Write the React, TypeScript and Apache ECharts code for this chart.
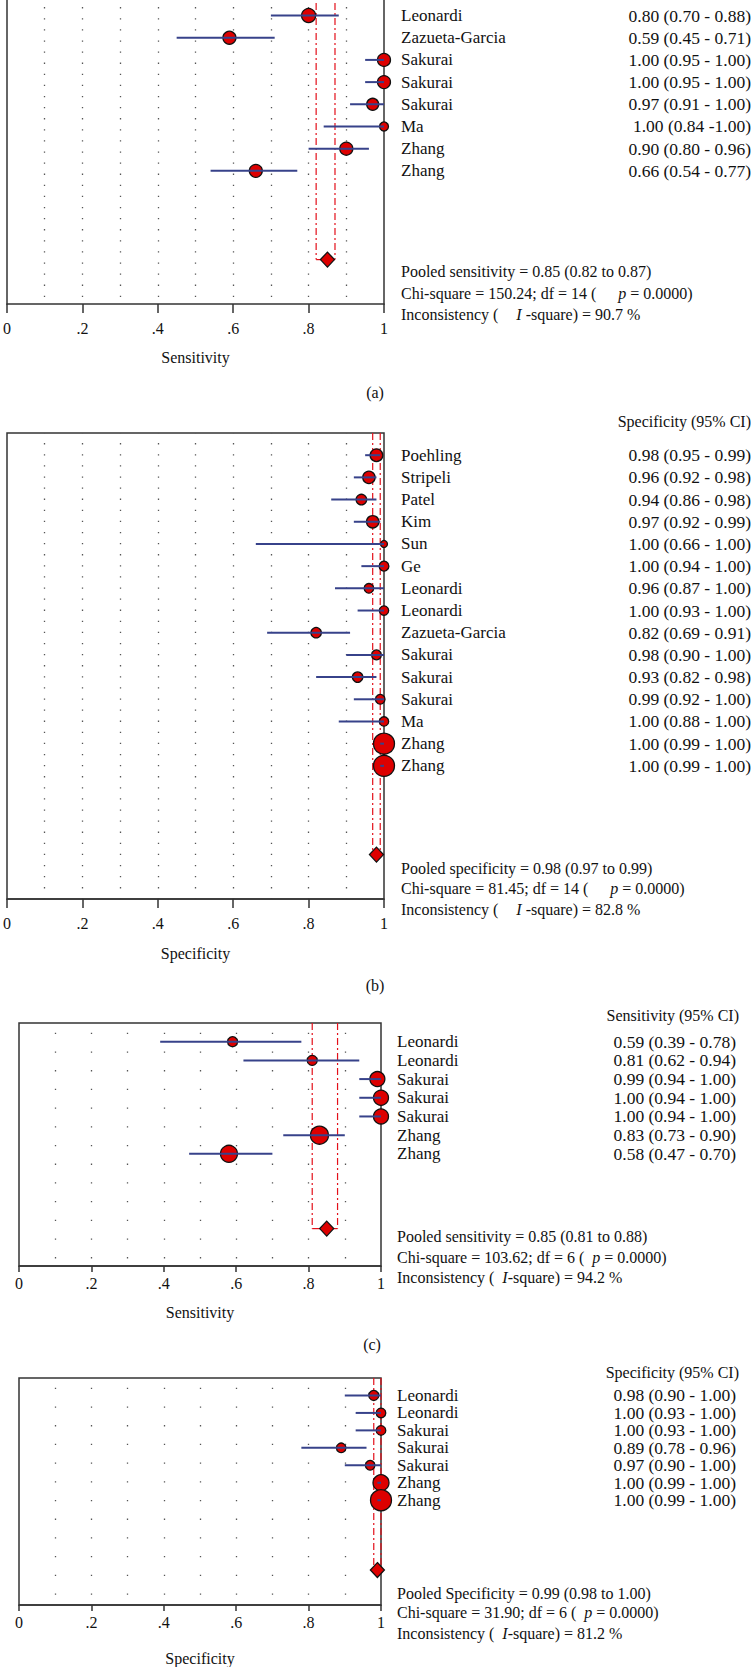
import React, { useEffect, useRef } from "react";
import * as echarts from "echarts";

const FONT = "'Liberation Serif', 'Times New Roman', serif";
const INK = "#111111";

// ---------- shared tick labels ----------
const xTickLabels = ["0", ".2", ".4", ".6", ".8", "1"];

// ---------- panel (a): sensitivity (first 7 of 15 studies are cropped above the picture) ----------
const aFirstRow = 7;
const aStudies = ["Leonardi", "Zazueta-Garcia", "Sakurai", "Sakurai", "Sakurai", "Ma", "Zhang", "Zhang"];
const aEst = [0.8, 0.59, 1.0, 1.0, 0.97, 1.0, 0.9, 0.66];
const aLow = [0.7, 0.45, 0.95, 0.95, 0.91, 0.84, 0.8, 0.54];
const aHigh = [0.88, 0.71, 1.0, 1.0, 1.0, 1.0, 0.96, 0.77];
const aWeight = [49, 42, 42, 42, 36, 20, 42, 42];
const aCiText = [
  "0.80 (0.70 - 0.88)", "0.59 (0.45 - 0.71)", "1.00 (0.95 - 1.00)", "1.00 (0.95 - 1.00)",
  "0.97 (0.91 - 1.00)", "1.00 (0.84 -1.00)", "0.90 (0.80 - 0.96)", "0.66 (0.54 - 0.77)",
];
const aPooled = [0.85, 0.82, 0.87];
const aHetero = [150.24, 14, 0.0, 90.7];

// ---------- panel (b): specificity ----------
const bFirstRow = 0;
const bStudies = [
  "Poehling", "Stripeli", "Patel", "Kim", "Sun", "Ge", "Leonardi", "Leonardi",
  "Zazueta-Garcia", "Sakurai", "Sakurai", "Sakurai", "Ma", "Zhang", "Zhang",
];
const bEst = [0.98, 0.96, 0.94, 0.97, 1.0, 1.0, 0.96, 1.0, 0.82, 0.98, 0.93, 0.99, 1.0, 1.0, 1.0];
const bLow = [0.95, 0.92, 0.86, 0.92, 0.66, 0.94, 0.87, 0.93, 0.69, 0.9, 0.82, 0.92, 0.88, 0.99, 0.99];
const bHigh = [0.99, 0.98, 0.98, 0.99, 1.0, 1.0, 1.0, 1.0, 0.91, 1.0, 0.98, 1.0, 1.0, 1.0, 1.0];
const bWeight = [40, 38, 28, 38, 12, 24, 23, 22, 27, 24, 27, 23, 22, 110, 110];
const bCiText = [
  "0.98 (0.95 - 0.99)", "0.96 (0.92 - 0.98)", "0.94 (0.86 - 0.98)", "0.97 (0.92 - 0.99)",
  "1.00 (0.66 - 1.00)", "1.00 (0.94 - 1.00)", "0.96 (0.87 - 1.00)", "1.00 (0.93 - 1.00)",
  "0.82 (0.69 - 0.91)", "0.98 (0.90 - 1.00)", "0.93 (0.82 - 0.98)", "0.99 (0.92 - 1.00)",
  "1.00 (0.88 - 1.00)", "1.00 (0.99 - 1.00)", "1.00 (0.99 - 1.00)",
];
const bPooled = [0.98, 0.97, 0.99];
const bHetero = [81.45, 14, 0.0, 82.8];

// ---------- panel (c): sensitivity ----------
const cFirstRow = 0;
const cStudies = ["Leonardi", "Leonardi", "Sakurai", "Sakurai", "Sakurai", "Zhang", "Zhang"];
const cEst = [0.59, 0.81, 0.99, 1.0, 1.0, 0.83, 0.58];
const cLow = [0.39, 0.62, 0.94, 0.94, 0.94, 0.73, 0.47];
const cHigh = [0.78, 0.94, 1.0, 1.0, 1.0, 0.9, 0.7];
const cWeight = [25, 25, 56, 56, 56, 81, 72];
const cCiText = [
  "0.59 (0.39 - 0.78)", "0.81 (0.62 - 0.94)", "0.99 (0.94 - 1.00)", "1.00 (0.94 - 1.00)",
  "1.00 (0.94 - 1.00)", "0.83 (0.73 - 0.90)", "0.58 (0.47 - 0.70)",
];
const cPooled = [0.85, 0.81, 0.88];
const cHetero = [103.62, 6, 0.0, 94.2];

// ---------- panel (d): specificity ----------
const dFirstRow = 0;
const dStudies = ["Leonardi", "Leonardi", "Sakurai", "Sakurai", "Sakurai", "Zhang", "Zhang"];
const dEst = [0.98, 1.0, 1.0, 0.89, 0.97, 1.0, 1.0];
const dLow = [0.9, 0.93, 0.93, 0.78, 0.9, 0.99, 0.99];
const dHigh = [1.0, 1.0, 1.0, 0.96, 1.0, 1.0, 1.0];
const dWeight = [25, 23, 23, 23, 23, 64, 110];
const dCiText = [
  "0.98 (0.90 - 1.00)", "1.00 (0.93 - 1.00)", "1.00 (0.93 - 1.00)", "0.89 (0.78 - 0.96)",
  "0.97 (0.90 - 1.00)", "1.00 (0.99 - 1.00)", "1.00 (0.99 - 1.00)",
];
const dPooled = [0.99, 0.98, 1.0];
const dHetero = [31.9, 6, 0.0, 81.2];

// ---------- layout (positions and styles, not data) ----------
const panels = [
  {
    studies: aStudies, est: aEst, low: aLow, high: aHigh, weight: aWeight, ciText: aCiText,
    firstRow: aFirstRow, pooled: aPooled, hetero: aHetero,
    pooledLabel: "Pooled sensitivity", header: "", axisName: "Sensitivity", caption: "(a)",
    // the picture is cropped: the plot's top edge lies above the page
    cropped: true, yMin: 6.3,
    left: 4, top: 0, width: 380, height: 304, yMax: 20, pooledRow: 18,
    tickLen: 9, labelMargin: 16, nameGap: 45, nameOffset: 17, valueRight: 751,
    headerRight: 751, headerY: -174, statsX: 401, statsY: [271, 293, 314],
    pGap: 22, iGap: 18, iText: " -square", captionX: 375, captionY: 392,
    dotPeriod: 11.1, dotOffset: 4,
  },
  {
    studies: bStudies, est: bEst, low: bLow, high: bHigh, weight: bWeight, ciText: bCiText,
    firstRow: bFirstRow, pooled: bPooled, hetero: bHetero,
    pooledLabel: "Pooled specificity", header: "Specificity (95% CI)", axisName: "Specificity", caption: "(b)",
    cropped: false, yMin: -1,
    left: 4, top: 433, width: 380, height: 466, yMax: 20, pooledRow: 18,
    tickLen: 9, labelMargin: 16, nameGap: 46, nameOffset: 17, valueRight: 751,
    headerRight: 751, headerY: 421, statsX: 401, statsY: [868, 888, 909],
    pGap: 22, iGap: 18, iText: " -square", captionX: 375, captionY: 985,
    dotPeriod: 11.1, dotOffset: 1,
  },
  {
    studies: cStudies, est: cEst, low: cLow, high: cHigh, weight: cWeight, ciText: cCiText,
    firstRow: cFirstRow, pooled: cPooled, hetero: cHetero,
    pooledLabel: "Pooled sensitivity", header: "Sensitivity (95% CI)", axisName: "Sensitivity", caption: "(c)",
    cropped: false, yMin: -1,
    left: 19, top: 1023, width: 362, height: 243, yMax: 12, pooledRow: 10,
    tickLen: 6, labelMargin: 9, nameGap: 38, nameOffset: 16, valueRight: 736,
    headerRight: 739, headerY: 1015, statsX: 397, statsY: [1236, 1257, 1277],
    pGap: 8, iGap: 8, iText: "-square", captionX: 372, captionY: 1344,
    dotPeriod: 18.7, dotOffset: 9.4,
  },
  {
    studies: dStudies, est: dEst, low: dLow, high: dHigh, weight: dWeight, ciText: dCiText,
    firstRow: dFirstRow, pooled: dPooled, hetero: dHetero,
    pooledLabel: "Pooled Specificity", header: "Specificity (95% CI)", axisName: "Specificity", caption: "",
    cropped: false, yMin: -1,
    left: 19, top: 1378, width: 362, height: 244, yMax: 12, pooledRow: 10,
    tickLen: 6, labelMargin: 9, nameGap: 45, nameOffset: 16, valueRight: 736,
    headerRight: 739, headerY: 1372, statsX: 397, statsY: [1593, 1612, 1633],
    pGap: 8, iGap: 8, iText: "-square", captionX: 372, captionY: 1700,
    dotPeriod: 18.7, dotOffset: 9.4,
  },
];

const RED = "#dd0000";
const NAVY = "#37428a";
const BOX = "#333333";

function textStyle(extra: any) {
  return { fontFamily: FONT, fontSize: 16, fill: INK, ...extra };
}

function buildOption() {
  const grid: any[] = [];
  const xAxis: any[] = [];
  const yAxis: any[] = [];
  const extraY: any[] = [];
  const series: any[] = [];
  const graphic: any[] = [];

  panels.forEach((p, i) => {
    const dotStyle = {
      color: "#555555",
      width: 1.3,
      type: [1.3, p.dotPeriod - 1.3],
      dashOffset: p.dotOffset,
    };
    grid.push({
      left: p.left, top: p.top, width: p.width, height: p.height,
      show: !p.cropped, borderColor: BOX, borderWidth: 1.5, backgroundColor: "transparent",
    });
    xAxis.push({
      type: "value", gridIndex: i, min: 0, max: 1, interval: 0.2,
      name: p.axisName, nameLocation: "middle", nameGap: p.nameGap,
      nameTextStyle: { fontFamily: FONT, fontSize: 16, color: INK },
      axisLine: { show: true, onZero: false, lineStyle: { color: BOX, width: 1.5 } },
      axisTick: { show: true, length: p.tickLen, lineStyle: { color: BOX, width: 1.5 } },
      axisLabel: {
        margin: p.labelMargin, fontFamily: FONT, fontSize: 16, color: INK,
        formatter: (v: number) => xTickLabels[Math.round(v / 0.2)],
      },
      splitLine: { show: true, showMinLine: false, showMaxLine: false, lineStyle: dotStyle },
      minorTick: { show: false, splitNumber: 2 },
      minorSplitLine: { show: true, lineStyle: dotStyle },
    });
    const edge = {
      show: p.cropped,
      axisLine: { show: true, onZero: false, lineStyle: { color: BOX, width: 1.5 } },
      axisTick: { show: false }, axisLabel: { show: false }, splitLine: { show: false },
    };
    yAxis.push({
      type: "value", gridIndex: i, min: p.yMin, max: p.yMax, inverse: true, position: "left", ...edge,
    });
    if (p.cropped) {
      extraY.push({
        type: "value", gridIndex: i, min: p.yMin, max: p.yMax, inverse: true, position: "right", ...edge,
      });
    }

    const rows = p.studies.map((_: string, k: number) => p.firstRow + k);

    // pooled CI dash-dot lines (from the plot's top row down to the pooled row)
    series.push({
      type: "custom", xAxisIndex: i, yAxisIndex: i, z: 2, silent: true,
      data: [[p.pooled[1], p.pooled[2], -1, p.pooledRow]],
      renderItem: (_params: any, api: any) => {
        const lo = api.value(0), hi = api.value(1), top = api.value(2), bot = api.value(3);
        const a1 = api.coord([lo, top]), a2 = api.coord([lo, bot]);
        const b1 = api.coord([hi, top]), b2 = api.coord([hi, bot]);
        const st = { stroke: "#e3101a", lineWidth: 1.2, lineDash: [7, 3, 2, 3], fill: null };
        return {
          type: "group",
          children: [
            { type: "line", shape: { x1: a1[0], y1: a1[1], x2: a2[0], y2: a2[1] }, style: st },
            { type: "line", shape: { x1: b1[0], y1: b1[1], x2: b2[0], y2: b2[1] }, style: st },
            { type: "line", shape: { x1: a2[0], y1: a2[1], x2: b2[0], y2: b2[1] }, style: { ...st, lineDash: null } },
          ],
        };
      },
    });

    // study points
    series.push({
      type: "scatter", xAxisIndex: i, yAxisIndex: i, z: 3, clip: false, silent: true,
      symbol: "circle",
      symbolSize: (d: number[]) => 2 * Math.sqrt(d[2]),
      itemStyle: { color: RED, borderColor: INK, borderWidth: 1.3, opacity: 1 },
      data: p.est.map((v: number, k: number) => [v, rows[k], p.weight[k]]),
    });

    // study CIs
    series.push({
      type: "custom", xAxisIndex: i, yAxisIndex: i, z: 4, silent: true,
      data: p.low.map((lo: number, k: number) => [lo, p.high[k], rows[k]]),
      renderItem: (_params: any, api: any) => {
        const y = api.value(2);
        const s = api.coord([api.value(0), y]);
        const e = api.coord([api.value(1), y]);
        return {
          type: "line",
          shape: { x1: s[0], y1: s[1], x2: e[0], y2: e[1] },
          style: { stroke: NAVY, lineWidth: 2 },
        };
      },
    });

    // pooled diamond
    series.push({
      type: "scatter", xAxisIndex: i, yAxisIndex: i, z: 5, clip: false, silent: true,
      symbol: "diamond", symbolSize: [14, 15],
      itemStyle: { color: RED, borderColor: INK, borderWidth: 1.3, opacity: 1 },
      data: [[p.pooled[0], p.pooledRow]],
    });

    // row labels (study names and estimates)
    series.push({
      type: "custom", xAxisIndex: i, yAxisIndex: i, z: 6, silent: true,
      data: rows.map((r: number, k: number) => [1, r, k]),
      renderItem: (_params: any, api: any) => {
        const k = api.value(2);
        const pt = api.coord([api.value(0), api.value(1)]);
        return {
          type: "group",
          children: [
            {
              type: "text", x: pt[0] + p.nameOffset, y: pt[1],
              style: textStyle({ text: p.studies[k], fontSize: 17, align: "left", verticalAlign: "middle" }),
            },
            {
              type: "text", x: p.valueRight, y: pt[1],
              style: textStyle({ text: p.ciText[k], fontSize: 17.5, align: "right", verticalAlign: "middle" }),
            },
          ],
        };
      },
    });

    // header
    if (p.header) {
      graphic.push({
        type: "text", x: p.headerRight, y: p.headerY,
        style: textStyle({ text: p.header, align: "right", verticalAlign: "middle" }),
      });
    }
    // pooled estimate and heterogeneity
    const [chi, df, pv, isq] = p.hetero;
    const rich = {
      g: { width: p.pGap, fontFamily: FONT, fontSize: 16 },
      h: { width: p.iGap, fontFamily: FONT, fontSize: 16 },
      it: { fontStyle: "italic", fontFamily: FONT, fontSize: 16, fill: INK },
    };
    graphic.push({
      type: "text", x: p.statsX, y: p.statsY[0],
      style: textStyle({
        text: `${p.pooledLabel} = ${p.pooled[0].toFixed(2)} (${p.pooled[1].toFixed(2)} to ${p.pooled[2].toFixed(2)})`,
        align: "left", verticalAlign: "middle",
      }),
    });
    graphic.push({
      type: "text", x: p.statsX, y: p.statsY[1],
      style: textStyle({
        text: `Chi-square = ${chi.toFixed(2)}; df = ${df} ({g| }{it|p} = ${pv.toFixed(4)})`,
        rich, align: "left", verticalAlign: "middle",
      }),
    });
    graphic.push({
      type: "text", x: p.statsX, y: p.statsY[2],
      style: textStyle({
        text: `Inconsistency ({h| }{it|I}${p.iText}) = ${isq.toFixed(1)} %`,
        rich, align: "left", verticalAlign: "middle",
      }),
    });
    if (p.caption) {
      graphic.push({
        type: "text", x: p.captionX, y: p.captionY,
        style: textStyle({ text: p.caption, align: "center", verticalAlign: "middle" }),
      });
    }
  });

  return {
    animation: false,
    backgroundColor: "#ffffff",
    grid, xAxis, yAxis: [...yAxis, ...extraY], series, graphic,
  };
}

export default function App() {
  const ref = useRef<HTMLDivElement>(null);
  useEffect(() => {
    document.body.style.margin = "0";
    if (!ref.current) return;
    const chart = echarts.init(ref.current, null, { renderer: "svg" });
    chart.setOption(buildOption() as any);
    return () => chart.dispose();
  }, []);
  return (
    <div
      ref={ref}
      style={{ position: "absolute", left: 0, top: 0, width: 751, height: 1667, background: "#fff" }}
    />
  );
}
